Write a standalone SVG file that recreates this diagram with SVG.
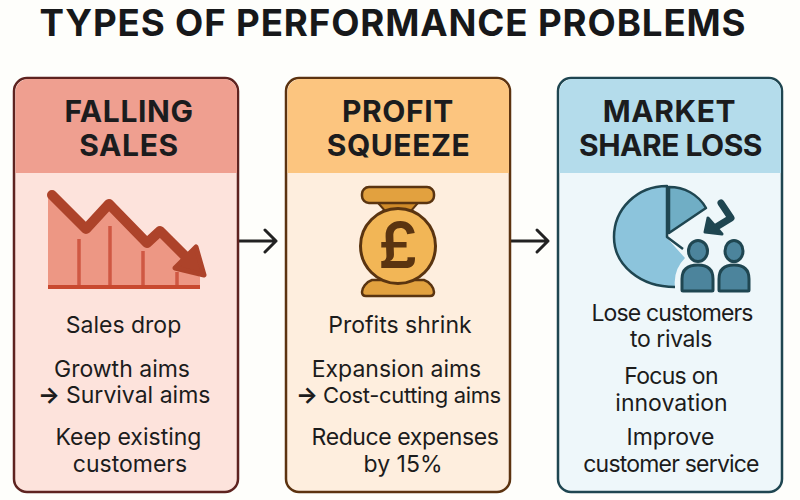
<svg xmlns="http://www.w3.org/2000/svg" width="800" height="500" viewBox="0 0 800 500">
<style>
text{font-family:"Inter","Liberation Sans",sans-serif;text-anchor:middle;fill:#1c1c1c}
.t{font-size:36.700px;font-weight:700;letter-spacing:.85px;fill:#17181a}
.h{font-size:30px;font-weight:700;letter-spacing:.6px;fill:#1b1c1e}
.b{font-size:23px;font-weight:400}
.a{text-anchor:start;font-weight:700}
.a tspan{font-weight:400}
.c{fill:none;stroke:#222;stroke-width:3;stroke-linecap:round;stroke-linejoin:round}
</style>
<rect width="800" height="500" fill="#fefefb"/>
<text class="t" x="393" y="36">TYPES OF PERFORMANCE PROBLEMS</text>
<g id="connectors">
<path class="c" d="M239 241H276M265 230L276 241L265 252"/>
<path class="c" d="M511 241H548M537 230L548 241L537 252"/>
</g>
<g id="falling-sales">
<rect x="14" y="78" width="224" height="414" rx="13" fill="#fde3dc" stroke="#5e2320" stroke-width="2.500"/>
<path d="M15.500 173V92a13 13 0 0 1 13-13H224a13 13 0 0 1 13 13V173Z" fill="#ef9f90"/>
<text class="h" x="129" y="122">FALLING</text>
<text class="h" x="129" y="156">SALES</text>
<path d="M48 197L86 233L109 205L147 245L160 233L200 277V289H48Z" fill="#ed9784"/>
<path d="M79 239V288M110 226V288M143 251V288M177 272V288" stroke="#cf5843" stroke-width="3.500" fill="none"/>
<path d="M48 287H200" stroke="#c9492f" stroke-width="4"/>
<path d="M52 195L86 229L109 204L147 243L160 231L195 266" fill="none" stroke="#ad432a" stroke-width="10" stroke-linecap="round" stroke-linejoin="round"/>
<path d="M196 247L204 275L175 268Z" fill="#ad432a" stroke="#ad432a" stroke-width="5" stroke-linejoin="round"/>
<text class="b" x="123.500" y="332.500">Sales drop</text>
<text class="b" x="122" y="376.500">Growth aims</text>
<text class="b a" x="38" y="403">→<tspan x="66">Survival aims</tspan></text>
<text class="b" x="128.500" y="444.500">Keep existing</text>
<text class="b" x="130" y="471.500">customers</text>
</g>
<g id="profit-squeeze">
<rect x="286" y="78" width="224" height="414" rx="13" fill="#feeede" stroke="#5c3310" stroke-width="2.500"/>
<path d="M287.500 173V92a13 13 0 0 1 13-13H496a13 13 0 0 1 13 13V173Z" fill="#fcc57f"/>
<text class="h" x="398" y="122">PROFIT</text>
<text class="h" x="398.500" y="156">SQUEEZE</text>
<path d="M378 203H418L410 212H386Z" fill="#cf8a29" stroke="#5a3410" stroke-width="2"/>
<rect x="362" y="187" width="72" height="16" rx="7" fill="#e2a13f" stroke="#5a3410" stroke-width="2.500"/>
<path d="M372 280H424C430 282 434 288 434 292Q434 296 430 296H366Q362 296 362 292C362 288 366 282 372 280Z" fill="#e2a13f" stroke="#5a3410" stroke-width="2.500"/>
<circle cx="398" cy="246" r="37.500" fill="#f2b656" stroke="#5a3410" stroke-width="3"/>
<text x="398" y="268" style="font-size:63px;font-weight:600;fill:#5a3410">£</text>
<text class="b" x="400" y="332.500">Profits shrink</text>
<text class="b" x="396.500" y="376.500">Expansion aims</text>
<text class="b a" x="296" y="403">→<tspan x="323" style="font-size:22px;letter-spacing:-.35px">Cost-cutting aims</tspan></text>
<text class="b" x="405" y="444.500" style="letter-spacing:-.4px">Reduce expenses</text>
<text class="b" x="403" y="471.500">by 15%</text>
</g>
<g id="market-share-loss">
<rect x="558" y="78" width="224" height="414" rx="13" fill="#eef7fa" stroke="#1f4651" stroke-width="2.500"/>
<path d="M559.500 173V92a13 13 0 0 1 13-13H768a13 13 0 0 1 13 13V173Z" fill="#b4dceb"/>
<text class="h" x="669.500" y="122">MARKET</text>
<text class="h" x="670.500" y="156" style="letter-spacing:-.5px">SHARE LOSS</text>
<path d="M667 238V186C637 186 614 209 614 237C614 265 640 287 675 287Q673 270 685 258Z" fill="#8cc4dc"/>
<path d="M683 249L667 237V186C637 186 614 209 614 237C614 265 640 287 675 287" fill="none" stroke="#1f4651" stroke-width="2.500" stroke-linejoin="round"/>
<path d="M669 233V187C684 187 698 194 706 208Z" fill="#70aec5" stroke="#1f4651" stroke-width="2.500" stroke-linejoin="round"/>
<path d="M721 203L731 218L713 229" fill="none" stroke="#1f4651" stroke-width="7" stroke-linecap="round" stroke-linejoin="round"/>
<path d="M708 218L705 232L722 234Z" fill="#1f4651" stroke="#1f4651" stroke-width="3" stroke-linejoin="round"/>
<g fill="#4c849c" stroke="#1f4651" stroke-width="3">
<ellipse cx="698" cy="251" rx="9.500" ry="10.500"/>
<ellipse cx="734" cy="251" rx="9" ry="10.500"/>
<path d="M682 290V279Q682 265 698 265Q713 265 713 279V290Q713 291 712 291H683Q682 291 682 290Z"/>
<path d="M719 290V279Q719 265 734 265Q749 265 749 279V290Q749 291 748 291H720Q719 291 719 290Z"/>
</g>
<text class="b" x="672" y="320.500" style="letter-spacing:-.85px">Lose customers</text>
<text class="b" x="671" y="346.500" style="letter-spacing:-.4px">to rivals</text>
<text class="b" x="671" y="383.500" style="letter-spacing:-.7px">Focus on</text>
<text class="b" x="671.500" y="410.500">innovation</text>
<text class="b" x="670.500" y="444.500">Improve</text>
<text class="b" x="671" y="471.500" style="letter-spacing:-.8px">customer service</text>
</g>
</svg>
